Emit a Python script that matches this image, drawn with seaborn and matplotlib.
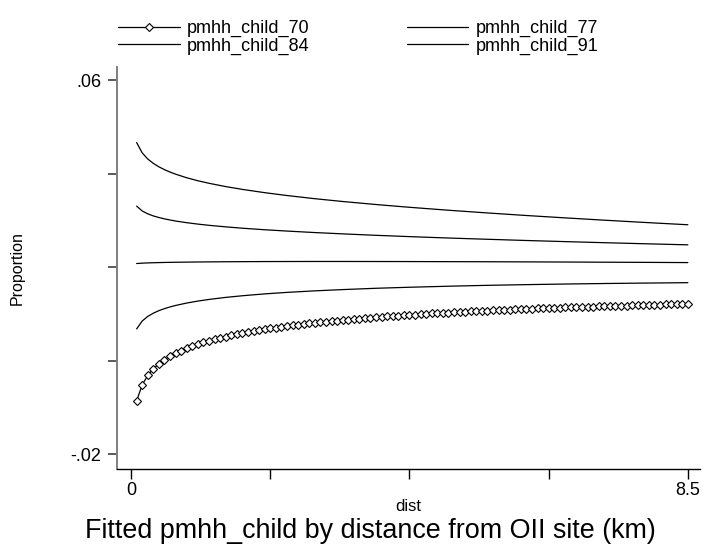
import numpy as np
import pandas as pd
import matplotlib
matplotlib.use("Agg")
import matplotlib.pyplot as plt
import seaborn as sns

sns.set_theme(style="white")
plt.rcParams['font.family'] = ['Liberation Sans', 'DejaVu Sans']
plt.rcParams['text.color'] = 'black'
plt.rcParams['axes.labelcolor'] = 'black'
plt.rcParams['xtick.color'] = 'black'
plt.rcParams['ytick.color'] = 'black'

# ---- data ----
step = 0.085
idx_full = list(range(1, 101))
dist_full = [round(step * i, 3) for i in idx_full]

pmhh_child_70 = [
    -0.00860, -0.00517, -0.00317, -0.00176, -0.00067, 0.00022, 0.00096, 0.00161, 0.00217, 0.00267,
    0.00313, 0.00354, 0.00391, 0.00426, 0.00458, 0.00488, 0.00516, 0.00543, 0.00567, 0.00591,
    0.00613, 0.00634, 0.00654, 0.00673, 0.00691, 0.00708, 0.00725, 0.00740, 0.00756, 0.00770,
    0.00784, 0.00798, 0.00811, 0.00824, 0.00836, 0.00848, 0.00859, 0.00870, 0.00881, 0.00891,
    0.00901, 0.00911, 0.00921, 0.00930, 0.00939, 0.00948, 0.00956, 0.00964, 0.00972, 0.00980,
    0.00988, 0.00995, 0.01003, 0.01010, 0.01017, 0.01023, 0.01030, 0.01036, 0.01043, 0.01049,
    0.01055, 0.01061, 0.01066, 0.01072, 0.01078, 0.01083, 0.01088, 0.01093, 0.01098, 0.01103,
    0.01108, 0.01113, 0.01118, 0.01122, 0.01127, 0.01131, 0.01135, 0.01139, 0.01143, 0.01147,
    0.01151, 0.01155, 0.01159, 0.01163, 0.01167, 0.01170, 0.01174, 0.01177, 0.01181, 0.01184,
    0.01187, 0.01190, 0.01194, 0.01197, 0.01200, 0.01203, 0.01206, 0.01208, 0.01211, 0.01214,
]

idx_sub = [1, 2, 3, 4, 5, 6, 7, 8, 10, 12, 14, 17, 20, 24, 28, 33, 38, 44, 50, 57, 64, 71, 78, 85, 92, 100]
dist_sub = [round(step * i, 3) for i in idx_sub]

pmhh_child_77 = [
    0.00680, 0.00849, 0.00948, 0.01017, 0.01071, 0.01114, 0.01151, 0.01182, 0.01234, 0.01276,
    0.01311, 0.01355, 0.01390, 0.01430, 0.01462, 0.01495, 0.01522, 0.01550, 0.01572, 0.01594,
    0.01613, 0.01628, 0.01641, 0.01652, 0.01661, 0.01670,
]
pmhh_child_84 = [
    0.02080, 0.02088, 0.02093, 0.02097, 0.02100, 0.02103, 0.02105, 0.02107, 0.02110, 0.02113,
    0.02115, 0.02118, 0.02120, 0.02122, 0.02123, 0.02124, 0.02124, 0.02123, 0.02122, 0.02120,
    0.02118, 0.02115, 0.02112, 0.02108, 0.02105, 0.02100,
]
pmhh_child_91 = [
    0.03310, 0.03205, 0.03144, 0.03099, 0.03065, 0.03036, 0.03012, 0.02990, 0.02954, 0.02924,
    0.02898, 0.02865, 0.02836, 0.02803, 0.02775, 0.02743, 0.02715, 0.02684, 0.02656, 0.02626,
    0.02599, 0.02573, 0.02549, 0.02526, 0.02504, 0.02480,
]
upper_band = [
    0.04670, 0.04449, 0.04318, 0.04224, 0.04150, 0.04090, 0.04038, 0.03993, 0.03916, 0.03852,
    0.03798, 0.03727, 0.03667, 0.03597, 0.03536, 0.03468, 0.03408, 0.03343, 0.03284, 0.03221,
    0.03163, 0.03108, 0.03057, 0.03008, 0.02961, 0.02910,
]

yticks = [-0.02, 0.0, 0.02, 0.04, 0.06]
ytick_labels = ['-.02', '', '', '', '.06']
xticks = [0, 2.125, 4.25, 6.375, 8.5]
xtick_labels = ['0', '', '', '', '8.5']

df70 = pd.DataFrame({'dist': dist_full, 'value': pmhh_child_70})
df_sub = pd.DataFrame({'dist': dist_sub, 'p77': pmhh_child_77, 'p84': pmhh_child_84,
                       'p91': pmhh_child_91, 'upper': upper_band})

# ---- figure ----
fig = plt.figure(figsize=(7.04, 5.5), dpi=100)
ax = fig.add_axes([0.1658, 0.1473, 0.828, 0.731])

lw = 0.9
sns.lineplot(data=df70, x='dist', y='value', ax=ax, color='black', lw=lw,
             marker='D', markersize=4.0, markerfacecolor='white',
             markeredgecolor='black', markeredgewidth=0.8, label='pmhh_child_70')
sns.lineplot(data=df_sub, x='dist', y='p77', ax=ax, color='black', lw=lw, label='pmhh_child_77')
sns.lineplot(data=df_sub, x='dist', y='p84', ax=ax, color='black', lw=lw, label='pmhh_child_84')
sns.lineplot(data=df_sub, x='dist', y='p91', ax=ax, color='black', lw=lw, label='pmhh_child_91')
sns.lineplot(data=df_sub, x='dist', y='upper', ax=ax, color='black', lw=lw, label='_nolegend_')

ax.set_xlim(-0.219, 8.68)
ax.set_ylim(-0.02319, 0.06289)
ax.set_yticks(yticks)
ax.set_yticklabels(ytick_labels)
ax.set_xticks(xticks)
ax.set_xticklabels(xtick_labels)

for s in ['top', 'right']:
    ax.spines[s].set_visible(False)
ax.spines['left'].set_color('#808080')
ax.spines['left'].set_linewidth(1.4)
ax.spines['bottom'].set_color('black')
ax.spines['bottom'].set_linewidth(1.0)

ax.tick_params(axis='y', direction='out', length=6.5, width=1.2, color='#404040',
               labelsize=13, pad=4.5, left=True, labelcolor='black')
ax.tick_params(axis='x', direction='out', length=7.5, width=1.0, color='black',
               labelsize=13, pad=2, bottom=True, labelcolor='black')

ax.set_xlabel('dist', fontsize=12, labelpad=0, color='black')
ax.set_ylabel('Proportion', fontsize=11.5, labelpad=33, color='black')
ax.grid(False)

fig.text(0.526, 0.034, 'Fitted pmhh_child by distance from OII site (km)',
         ha='center', va='center', fontsize=19.4, color='black')

handles, labels = ax.get_legend_handles_labels()
ax.get_legend().remove()
order = [0, 2, 1, 3]
leg = fig.legend([handles[i] for i in order], [labels[i] for i in order],
                 loc='center', bbox_to_anchor=(0.509, 0.932), ncol=2, frameon=False,
                 fontsize=13, handlelength=3.4, handletextpad=0.4, columnspacing=5.4,
                 labelspacing=0.0, borderpad=0)
for t in leg.get_texts():
    t.set_color('black')

fig.savefig('out.png', dpi=100, facecolor='white')
